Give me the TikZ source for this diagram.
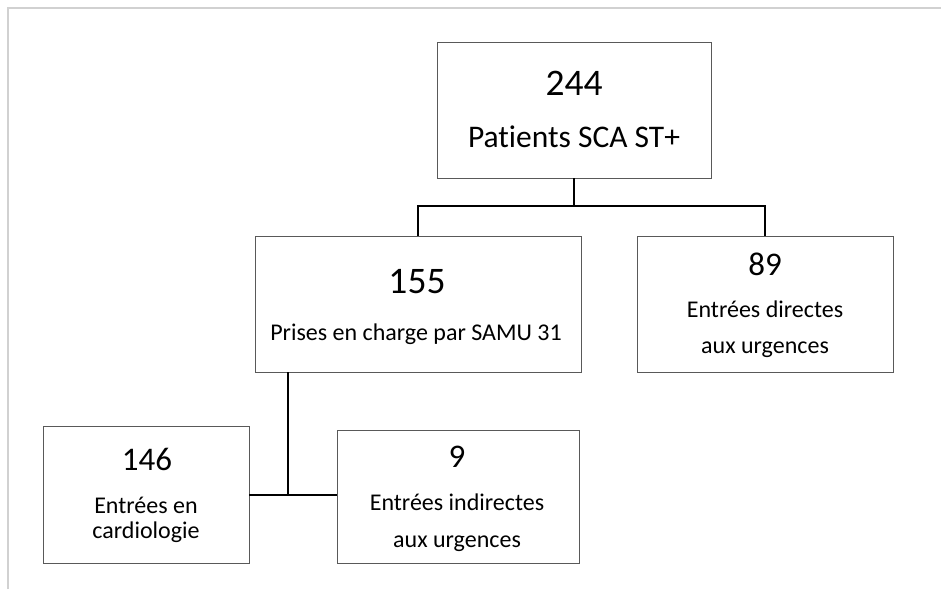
\documentclass[tikz,border=0pt]{standalone}
\usepackage{fontspec}
\setmainfont{Carlito}[Ligatures=NoCommon]
\begin{document}
\begin{tikzpicture}[x=1pt,y=-1pt,
  box/.style={draw=black!65,line width=0.9pt,fill=white,inner sep=0pt},
  conn/.style={draw=black,line width=2pt},
  frameline/.style={draw=black!18,line width=1.2pt},
  bignum/.style={font=\fontsize{37.5}{40}\selectfont,anchor=base,inner sep=0pt},
  num/.style={font=\fontsize{33}{36}\selectfont,anchor=base,inner sep=0pt},
  biglab/.style={font=\fontsize{31.5}{34}\selectfont,anchor=base,inner sep=0pt},
  lab/.style={font=\fontsize{24}{28}\selectfont,anchor=base,inner sep=0pt}]
\useasboundingbox (0,0) rectangle (941,589);
\coordinate (fa) at (8,589);
\coordinate (fb) at (8,8);
\coordinate (fc) at (941,8);
\draw[frameline] (fa) -- (fb) -- (fc);
% boxes
\node[box,minimum width=274pt,minimum height=136pt] (top) at (574,110) {};
\node[box,minimum width=326pt,minimum height=136pt] (b155) at (418,304) {};
\node[box,minimum width=256pt,minimum height=136pt] (b89) at (765,304) {};
\node[box,minimum width=206pt,minimum height=137pt] (b146) at (146,494.5) {};
\node[box,minimum width=242pt,minimum height=133pt] (b9) at (458,496.5) {};
% texts
\node[bignum] (t244) at (574,95) {244};
\node[biglab] (tpat) at (574,147) {Patients SCA ST+};
\node[bignum] (t155) at (417,293) {155};
\node[lab] (tpri) at (416,340) {Prises en charge par SAMU 31};
\node[num] (t89) at (765,275) {89};
\node[lab] (tdir1) at (765,317) {Entrées directes};
\node[lab] (tdir2) at (765,353) {aux urgences};
\node[num] (t146) at (147,470) {146};
\node[lab] (tcar1) at (146,513) {Entrées en};
\node[lab] (tcar2) at (146,538) {cardiologie};
\node[num] (t9) at (457,467) {9};
\node[lab] (tind1) at (457,510) {Entrées indirectes};
\node[lab] (tind2) at (457,547) {aux urgences};
% connectors
\coordinate (j1) at (574,206);
\coordinate (j2) at (288,495);
\draw[conn] (top.south) -- (j1);
\draw[conn] (b155.north) |- (j1) -| (b89.north);
\draw[conn] (j2 |- b155.south) -- (j2);
\draw[conn] (b146.east |- j2) -- (b9.west |- j2);
\end{tikzpicture}
\end{document}
